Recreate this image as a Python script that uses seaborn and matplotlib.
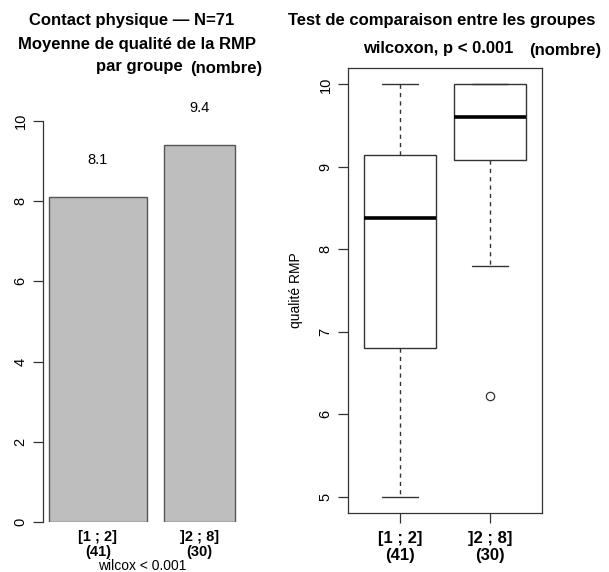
import numpy as np
import pandas as pd
import matplotlib
matplotlib.use("Agg")
import matplotlib.pyplot as plt
import seaborn as sns

# ---- data ----
groups = ["[1 ; 2]", "]2 ; 8]"]
group_n = [41, 30]
group_means = [8.1, 9.4]
mean_labels = ["8.1", "9.4"]

# qualité RMP values (sorted)
qual_g1 = [5.0, 5.4, 5.7, 6.0, 6.2, 6.3, 6.5, 6.6, 6.7, 6.75,
           6.8,
           7.0, 7.2, 7.4, 7.6, 7.8, 7.9, 8.0, 8.2, 8.3,
           8.38,
           8.45, 8.5, 8.6, 8.7, 8.8, 8.9, 9.0, 9.05, 9.1,
           9.15,
           9.2, 9.3, 9.4, 9.5, 9.6, 9.7, 9.8, 9.9, 10.0, 10.0]
qual_g2 = [6.22, 7.8, 8.2, 8.5, 8.7, 8.9, 9.0, 9.08, 9.08, 9.2,
           9.3, 9.4, 9.5, 9.55, 9.6, 9.6, 9.7, 9.8, 9.85, 9.9,
           9.95, 10.0, 10.0, 10.0, 10.0, 10.0, 10.0, 10.0, 10.0, 10.0]

tick_labels = [f"{g}\n({n})" for g, n in zip(groups, group_n)]

df = pd.DataFrame({
    "groupe": [tick_labels[0]] * len(qual_g1) + [tick_labels[1]] * len(qual_g2),
    "qualite": qual_g1 + qual_g2,
})

sns.set_style("white")
plt.rcParams["font.family"] = ["Liberation Sans", "DejaVu Sans"]
plt.rcParams["text.color"] = "black"
plt.rcParams["axes.labelcolor"] = "black"
plt.rcParams["xtick.color"] = "black"
plt.rcParams["ytick.color"] = "black"

fig = plt.figure(figsize=(6.09, 5.72), dpi=100)
edge = "#333333"
title_fs = 12

# ---- left: bar chart of means, bar widths proportional to n ----
ax1 = fig.add_axes([43 / 609, 1 - 522 / 572, 207 / 609, 427 / 572])
space = 0.2 * np.mean(group_n)
lefts = []
x = space
for n in group_n:
    lefts.append(x)
    x += n + space
centers = [l + n / 2 for l, n in zip(lefts, group_n)]
ax1.bar(lefts, group_means, width=group_n, align="edge",
        color="#bebebe", edgecolor="#555555", linewidth=1)
for c, m, lab in zip(centers, group_means, mean_labels):
    ax1.text(c, m + 0.92, lab, ha="center", va="center", fontsize=10.5)
ax1.set_xlim(4.6, 91.5)
ax1.set_ylim(0, 10.65)
ax1.set_yticks([0, 2, 4, 6, 8, 10])
ax1.set_xticks(centers)
ax1.set_xticklabels(tick_labels, fontweight="bold", fontsize=10.5, linespacing=1.1)
ax1.tick_params(axis="x", length=0, pad=6)
ax1.tick_params(axis="y", length=7, width=0.9, color=edge, pad=4,
                labelsize=10.5, labelrotation=90, left=True)
for lab in ax1.get_yticklabels():
    lab.set_va("center")
for s in ["top", "right", "bottom"]:
    ax1.spines[s].set_visible(False)
ax1.spines["left"].set_bounds(0, 10)
ax1.spines["left"].set_color(edge)
ax1.spines["left"].set_linewidth(0.9)
ax1.set_ylabel("")
fig.text(142 / 609, 1 - 566 / 572, "wilcox < 0.001", ha="center", va="center",
         fontsize=10)

fig.text(132 / 609, 1 - 21 / 572, "Contact physique \u2014 N=71", ha="center",
         va="center", fontsize=title_fs, fontweight="bold")
fig.text(137 / 609, 1 - 44 / 572, "Moyenne de qualité de la RMP", ha="center",
         va="center", fontsize=title_fs, fontweight="bold")
fig.text(183 / 609, 1 - 66 / 572, "par groupe", ha="right",
         va="center", fontsize=title_fs, fontweight="bold")
fig.text(190 / 609, 1 - 68 / 572, "(nombre)", ha="left",
         va="center", fontsize=title_fs, fontweight="bold")

# ---- right: boxplot ----
ax2 = fig.add_axes([348 / 609, 1 - 513 / 572, 194 / 609, 445 / 572])
sns.boxplot(data=df, x="groupe", y="qualite", ax=ax2, width=0.8,
            color="white", linecolor=edge, linewidth=1,
            whiskerprops=dict(linestyle=(0, (3, 3))),
            medianprops=dict(linewidth=2.6, color="black"),
            flierprops=dict(marker="o", markersize=6, markerfacecolor="none",
                            markeredgecolor=edge, markeredgewidth=0.9))
ax2.set_xlim(-0.58, 1.58)
ax2.set_ylim(4.8, 10.2)
ax2.set_yticks([5, 6, 7, 8, 9, 10])
ax2.set_xlabel("")
ax2.set_ylabel("qualité RMP", fontsize=10, labelpad=11)
ax2.set_xticks([0, 1])
ax2.set_xticklabels(tick_labels, fontweight="bold", fontsize=12, linespacing=1.15)
ax2.tick_params(axis="x", length=7, width=0.9, color=edge, pad=6, bottom=True)
ax2.tick_params(axis="y", length=7, width=0.9, color=edge, pad=4,
                labelsize=10.5, labelrotation=90, left=True)
for lab in ax2.get_yticklabels():
    lab.set_va("center")
for s in ax2.spines.values():
    s.set_visible(True)
    s.set_color(edge)
    s.set_linewidth(0.9)

fig.text(442 / 609, 1 - 21 / 572, "Test de comparaison entre les groupes",
         ha="center", va="center", fontsize=title_fs, fontweight="bold")
fig.text(513 / 609, 1 - 48 / 572, "wilcoxon, p < 0.001", ha="right",
         va="center", fontsize=title_fs, fontweight="bold")
fig.text(529 / 609, 1 - 50 / 572, "(nombre)", ha="left",
         va="center", fontsize=title_fs, fontweight="bold")

fig.savefig("out.png", dpi=100)
